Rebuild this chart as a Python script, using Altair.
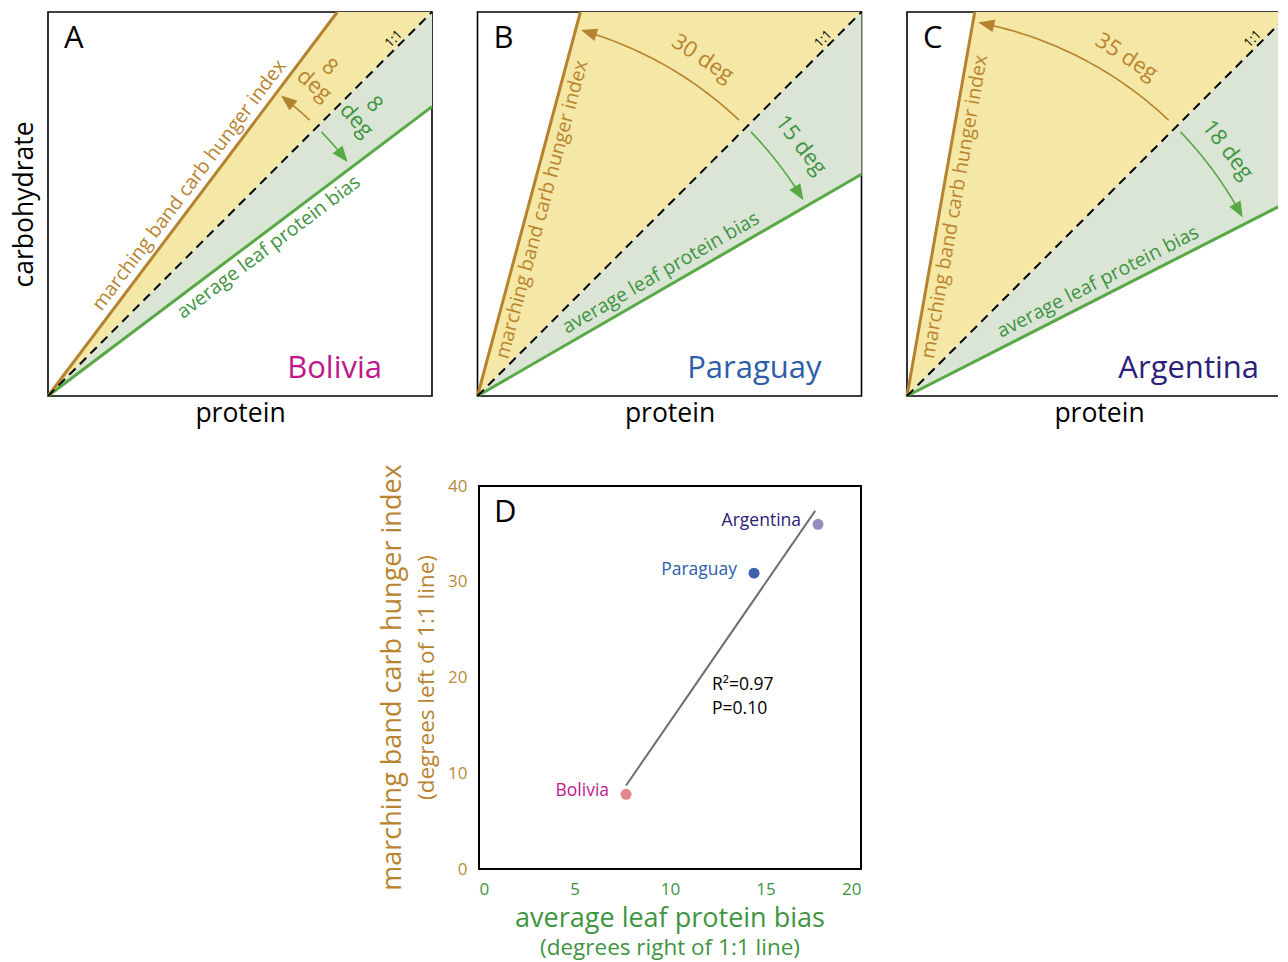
import math
import numpy as np
import pandas as pd
import altair as alt

# ---------------- data ----------------
countries = ["Bolivia", "Paraguay", "Argentina"]
panel_letters = ["A", "B", "C"]
carb_deg = [8, 30, 35]        # marching band carb hunger index (deg left of 1:1)
protein_deg = [8, 15, 18]     # average leaf protein bias (deg right of 1:1)
country_colors = ["#C0178A", "#2E5DAA", "#2B2179"]

d_protein = [7.7, 14.4, 17.75]   # panel D x values
d_carb = [7.8, 30.9, 36.0]       # panel D y values
d_point_colors = ["#E0868C", "#3A62AE", "#958DC2"]
d_label_colors = ["#BE1A8C", "#2E5DAA", "#2B2179"]
d_x_ticks = [0, 5, 10, 15, 20]
d_y_ticks = [0, 10, 20, 30, 40]
stats_text = "R\u00b2=0.97\nP=0.10"

# ---------------- styles / layout ----------------
FONT = "Open Sans"
ORANGE_LINE = "#B5832F"
ORANGE_TEXT = "#B8842F"
ORANGE_TICK = "#B98A3C"
GREEN_LINE = "#58A845"
GREEN_TEXT = "#3F9441"
YELLOW_FILL = "#F5E7A6"
GREEN_FILL = "#DAE5D6"
S = 384                      # panel size (px)
ARC_R = 0.99                 # arc radius in panel units
orange_t = [0.527, 0.495, 0.499]
green_t = [0.553, 0.497, 0.515]
orange_label_above = [True, False, False]
green_label_above = [False, True, True]
orange_lab_phi = [49.4, 56.3, 57.1]
green_lab_phi = [41.8, 37.8, 37.5]
orange_lab_r = [1.097, 1.057, 1.052]
green_lab_r = [1.109, 1.066, 1.053]
two_line_angle_label = [True, False, False]
country_x = [334, 344, 352]
ARROW = "M0,-1L0.8,1L-0.8,1Z"
ARROW_SIZE = 256
LINE_H = 24


def panel(i):
    a, b = carb_deg[i], protein_deg[i]
    th_o = 45 + a
    th_g = 45 - b
    xo = 1 / math.tan(math.radians(th_o))
    yg = math.tan(math.radians(th_g))

    sc = alt.Scale(domain=[0, 1], nice=False, zero=False)
    xaxis = alt.Axis(title="protein", labels=False, ticks=False, domain=False,
                     grid=False, titleFontSize=26.5, titleFontWeight="normal",
                     titleColor="black", titlePadding=4, titleFont=FONT)
    yaxis = alt.Axis(title="carbohydrate", labels=False, ticks=False,
                     domain=False, grid=False, titleFontSize=26.5,
                     titleFontWeight="normal", titleColor="black",
                     titlePadding=10, titleFont=FONT)

    def X(f="x"):
        return alt.X(f"{f}:Q", scale=sc, axis=xaxis)

    def Y(f="y"):
        if i == 0:
            return alt.Y(f"{f}:Q", scale=sc, axis=yaxis)
        return alt.Y(f"{f}:Q", scale=sc, axis=None)

    yel = pd.DataFrame({"x": [0, xo, 1], "y": [0, 1, 1], "y2": [0, xo, 1]})
    grn = pd.DataFrame({"x": [0, 1], "y": [0, 1], "y2": [0, yg]})
    yel_area = alt.Chart(yel).mark_area(color=YELLOW_FILL, opacity=1).encode(
        x=X(), y=Y(), y2="y2:Q")
    grn_area = alt.Chart(grn).mark_area(color=GREEN_FILL, opacity=1).encode(
        x=X(), y=Y(), y2="y2:Q")

    oline = alt.Chart(pd.DataFrame({"x": [0, xo], "y": [0, 1]})).mark_line(
        color=ORANGE_LINE, strokeWidth=3).encode(x=X(), y=Y())
    gline = alt.Chart(pd.DataFrame({"x": [0, 1], "y": [0, yg]})).mark_line(
        color=GREEN_LINE, strokeWidth=3).encode(x=X(), y=Y())
    dline = alt.Chart(pd.DataFrame({"x": [0, 1], "y": [0, 1]})).mark_line(
        color="black", strokeWidth=2, strokeDash=[9, 6]).encode(x=X(), y=Y())

    # arcs with arrowheads
    tip_o = th_o - 0.8
    tip_g = th_g + 1.0
    phi_o = np.linspace(46.5, tip_o - 1.0, 40)
    phi_g = np.linspace(44.0, tip_g + 1.0, 40)
    arc_o = pd.DataFrame({"x": ARC_R * np.cos(np.radians(phi_o)),
                          "y": ARC_R * np.sin(np.radians(phi_o)),
                          "k": np.arange(len(phi_o))})
    arc_g = pd.DataFrame({"x": ARC_R * np.cos(np.radians(phi_g)),
                          "y": ARC_R * np.sin(np.radians(phi_g)),
                          "k": np.arange(len(phi_g))})
    arc_o_l = alt.Chart(arc_o).mark_line(color=ORANGE_LINE, strokeWidth=1.6).encode(
        x=X(), y=Y(), order="k:Q")
    arc_g_l = alt.Chart(arc_g).mark_line(color=GREEN_LINE, strokeWidth=1.6).encode(
        x=X(), y=Y(), order="k:Q")

    half = math.degrees((math.sqrt(ARROW_SIZE) / 2) / (ARC_R * S))
    co = tip_o - half
    cg = tip_g + half
    head_o = alt.Chart(pd.DataFrame({"x": [ARC_R * math.cos(math.radians(co))],
                                     "y": [ARC_R * math.sin(math.radians(co))]})).mark_point(
        shape=ARROW, size=ARROW_SIZE, filled=True, opacity=1, color=ORANGE_LINE,
        strokeWidth=0, angle=360 - co).encode(x=X(), y=Y())
    head_g = alt.Chart(pd.DataFrame({"x": [ARC_R * math.cos(math.radians(cg))],
                                     "y": [ARC_R * math.sin(math.radians(cg))]})).mark_point(
        shape=ARROW, size=ARROW_SIZE, filled=True, opacity=1, color=GREEN_LINE,
        strokeWidth=0, angle=180 - cg).encode(x=X(), y=Y())

    # labels along lines
    to = orange_t[i]
    tg = green_t[i]
    if orange_label_above[i]:
        ob, ody = "alphabetic", -8
    else:
        ob, ody = "top", 5
    if green_label_above[i]:
        gb, gdy = "alphabetic", -9
    else:
        gb, gdy = "top", 5
    olab = alt.Chart(pd.DataFrame({"x": [to * xo], "y": [to],
                                   "t": ["marching band carb hunger index"]})).mark_text(
        angle=360 - th_o, align="center", baseline=ob, dy=ody,
        fontSize=19.5, color=ORANGE_TEXT, font=FONT).encode(x=X(), y=Y(), text="t:N")
    glab = alt.Chart(pd.DataFrame({"x": [tg], "y": [tg * yg],
                                   "t": ["average leaf protein bias"]})).mark_text(
        angle=360 - th_g, align="center", baseline=gb, dy=gdy,
        fontSize=19.5, color=GREEN_TEXT, font=FONT).encode(x=X(), y=Y(), text="t:N")
    onelab = alt.Chart(pd.DataFrame({"x": [0.915], "y": [0.915], "t": ["1:1"]})).mark_text(
        angle=315, align="center", baseline="alphabetic", dy=-4,
        fontSize=13, color="black", font=FONT).encode(x=X(), y=Y(), text="t:N")

    two = two_line_angle_label[i]
    sep = "\n" if two else " "
    ady = -LINE_H / 2 if two else 0
    po, ro = orange_lab_phi[i], orange_lab_r[i]
    pg, rg = green_lab_phi[i], green_lab_r[i]
    oang = alt.Chart(pd.DataFrame({"x": [ro * math.cos(math.radians(po))],
                                   "y": [ro * math.sin(math.radians(po))],
                                   "t": [f"{a}{sep}deg"]})).mark_text(
        angle=90 - po, align="center", baseline="middle", lineBreak="\n",
        lineHeight=LINE_H, dy=ady, fontSize=22, color=ORANGE_TEXT, font=FONT).encode(
        x=X(), y=Y(), text="t:N")
    gang = alt.Chart(pd.DataFrame({"x": [rg * math.cos(math.radians(pg))],
                                   "y": [rg * math.sin(math.radians(pg))],
                                   "t": [f"{b}{sep}deg"]})).mark_text(
        angle=90 - pg, align="center", baseline="middle", lineBreak="\n",
        lineHeight=LINE_H, dy=ady, fontSize=22, color=GREEN_TEXT, font=FONT).encode(
        x=X(), y=Y(), text="t:N")

    cname = alt.Chart(pd.DataFrame({"t": [countries[i]]})).mark_text(
        align="right", baseline="alphabetic", fontSize=31, color=country_colors[i],
        font=FONT).encode(x=alt.value(country_x[i]), y=alt.value(366), text="t:N")
    letter = alt.Chart(pd.DataFrame({"t": [panel_letters[i]]})).mark_text(
        align="left", baseline="alphabetic", fontSize=31, color="black",
        font=FONT).encode(x=alt.value(16), y=alt.value(36), text="t:N")

    return alt.layer(yel_area, grn_area, oline, gline, dline, arc_o_l, arc_g_l,
                     head_o, head_g, olab, glab, onelab, oang, gang, cname,
                     letter).properties(
        width=S, height=S,
        view=alt.ViewBackground(stroke="black", strokeWidth=1.6))


# ---------------- panel D ----------------
dd = pd.DataFrame({"country": countries, "p": d_protein, "c": d_carb,
                   "pc": d_point_colors, "lc": d_label_colors})
DW, DH = 382, 383
xD = alt.X("p:Q", scale=alt.Scale(domain=[0, 20], nice=False),
           axis=alt.Axis(values=d_x_ticks, title=None, ticks=False, domain=False,
                         grid=False, labelColor=GREEN_TEXT, labelFontSize=17,
                         labelPadding=12, labelFont=FONT))
yD = alt.Y("c:Q", scale=alt.Scale(domain=[0, 40], nice=False),
           axis=alt.Axis(values=d_y_ticks, title=None, ticks=False, domain=False,
                         grid=False, labelColor=ORANGE_TICK, labelFontSize=17,
                         labelPadding=12, labelFont=FONT))

reg = alt.Chart(dd).transform_regression("p", "c", extent=[7.7, 17.6]).mark_line(
    color="#6E6E6E", strokeWidth=2).encode(x=xD, y=yD)
pts = alt.Chart(dd).mark_circle(size=120, opacity=1).encode(
    x=xD, y=yD, color=alt.Color("pc:N", scale=None))
plab = alt.Chart(dd).mark_text(align="right", baseline="middle", dx=-17, dy=-3,
                               fontSize=17.5, font=FONT).encode(
    x=xD, y=yD, text="country:N", color=alt.Color("lc:N", scale=None))
stats = alt.Chart(pd.DataFrame({"t": [stats_text]})).mark_text(
    align="left", baseline="alphabetic", lineBreak="\n", lineHeight=24,
    fontSize=17.5, color="black", font=FONT).encode(
    x=alt.value(233), y=alt.value(204), text="t:N")
dlet = alt.Chart(pd.DataFrame({"t": ["D"]})).mark_text(
    align="left", baseline="alphabetic", fontSize=31, color="black",
    font=FONT).encode(x=alt.value(15), y=alt.value(36), text="t:N")
ytitle = alt.Chart(pd.DataFrame({"t": ["marching band carb hunger index"]})).mark_text(
    angle=270, align="center", baseline="middle", fontSize=27, color=ORANGE_TEXT,
    font=FONT).encode(x=alt.value(-86), y=alt.value(DH / 2), text="t:N")
ysub = alt.Chart(pd.DataFrame({"t": ["(degrees left of 1:1 line)"]})).mark_text(
    angle=270, align="center", baseline="middle", fontSize=22.5, color=ORANGE_TEXT,
    font=FONT).encode(x=alt.value(-52), y=alt.value(DH / 2), text="t:N")
xtitle = alt.Chart(pd.DataFrame({"t": ["average leaf protein bias"]})).mark_text(
    align="center", baseline="alphabetic", fontSize=27, color=GREEN_TEXT,
    font=FONT).encode(x=alt.value(DW / 2), y=alt.value(441), text="t:N")
xsub = alt.Chart(pd.DataFrame({"t": ["(degrees right of 1:1 line)"]})).mark_text(
    align="center", baseline="alphabetic", fontSize=22.5, color=GREEN_TEXT,
    font=FONT).encode(x=alt.value(DW / 2), y=alt.value(469), text="t:N")

panel_d = alt.layer(reg, pts, plab, stats, dlet, ytitle, ysub, xtitle, xsub).properties(
    width=DW, height=DH, view=alt.ViewBackground(stroke="black", strokeWidth=2))

spacer = alt.Chart(pd.DataFrame({"v": [0]})).mark_point(opacity=0).encode(
    x=alt.value(5), y=alt.value(5)).properties(
    width=328, height=10, view=alt.ViewBackground(stroke="transparent"))

top_row = alt.hconcat(panel(0), panel(1), panel(2), spacing=31.5)
bottom_row = alt.hconcat(spacer, panel_d, spacing=0)

chart = alt.vconcat(top_row, bottom_row, spacing=35).properties(
    padding={"left": 2, "top": -3, "right": -20, "bottom": 0}
).configure(font=FONT)

chart.save("out.html", embed_options={"renderer": "svg", "actions": False})
